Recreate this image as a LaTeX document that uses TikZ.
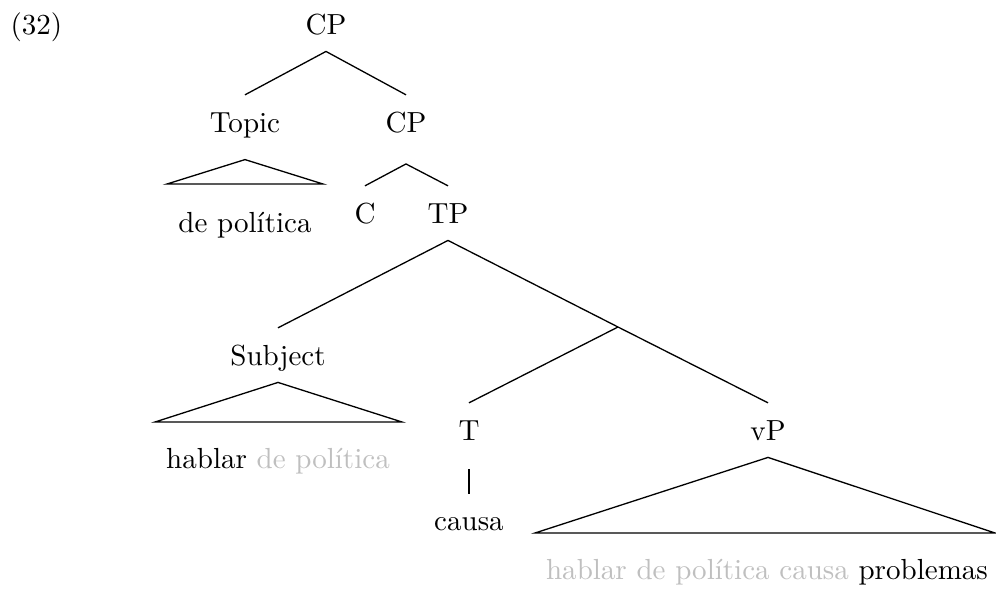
\documentclass[tikz,border=0pt]{standalone}
\usepackage{tikz}
\usetikzlibrary{positioning}
\definecolor{tracegray}{gray}{0.75}
\tikzset{
    catnode/.style={inner sep=0pt, outer sep=6pt, text height=6.8pt, text depth=0pt, anchor=base},
    leafnode/.style={inner sep=0pt, anchor=base},
    branch/.style={line width=0.45pt}
}

\begin{document}
\begin{tikzpicture}[x=0.0121cm, y=-0.0121cm]
        \useasboundingbox (0,0) rectangle (996,590);
        \node[leafnode, anchor=base west] (exnum) at (10,34) {(32)};
        % categories
        \node[catnode] (CP) at (326,34) {CP};
        \node[catnode, text depth=3.5pt] (Topic) at (245,132) {Topic};
        \node[catnode, text depth=5pt] (CPlow) at (406,132) {CP};
        \node[catnode] (C) at (365,223) {C};
        \node[catnode] (TP) at (448,223) {TP};
        \node[catnode] (Subject) at (278,365) {Subject};
        \node[catnode, text depth=4pt] (T) at (469,440) {T};
        \node[catnode] (vP) at (768,440) {vP};
        \coordinate (Tbar) at (618,327);
        % leaves
        \node[leafnode] (topicText) at (245,232) {de política};
        \node[leafnode] (subjText) at (278,468) {hablar \textcolor{tracegray}{de política}};
        \node[leafnode, outer sep=8pt] (causa) at (469,530) {causa};
        \node[leafnode] (vpText) at (767,579) {\textcolor{tracegray}{hablar de política causa} problemas};
        % triangle corners
        \coordinate (topicL) at (167,184);
        \coordinate (topicR) at (323,184);
        \coordinate (subjL) at (155,422);
        \coordinate (subjR) at (402,422);
        \coordinate (vpL) at (535,533);
        \coordinate (vpR) at (995,533);
        % branches
        \draw[branch] (CP.south) -- (Topic.north);
        \draw[branch] (CP.south) -- (CPlow.north);
        \draw[branch] (Topic.south) -- (topicL) -- (topicR) -- cycle;
        \draw[branch] (CPlow.south) -- (C.north);
        \draw[branch] (CPlow.south) -- (TP.north);
        \draw[branch] (TP.south) -- (Subject.north);
        \draw[branch] (TP.south) -- (Tbar) -- (vP.north);
        \draw[branch] (Tbar) -- (T.north);
        \draw[branch] (Subject.south) -- (subjL) -- (subjR) -- cycle;
        \draw[branch] (T.south) -- (causa.north);
        \draw[branch] (vP.south) -- (vpL) -- (vpR) -- cycle;
    \end{tikzpicture}
\end{document}
